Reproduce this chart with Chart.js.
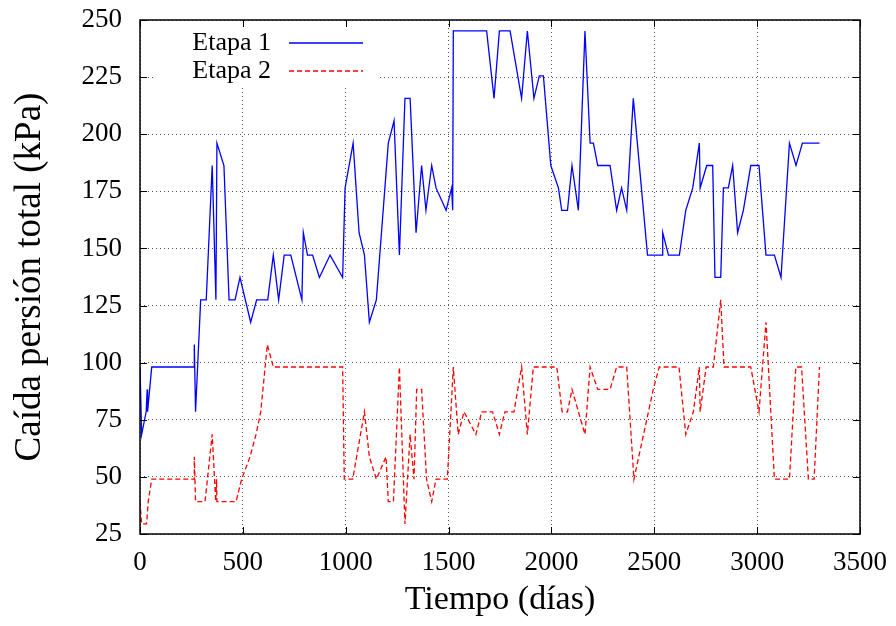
<!DOCTYPE html>
<html>
<head>
<meta charset="utf-8">
<script src="https://cdn.jsdelivr.net/npm/chart.js"></script>
<style>
  body { margin: 0; background: #fff; }
  canvas { display: block; }
</style>
</head>
<body>
<canvas id="grafico" width="896" height="626"></canvas>
<script>
// datos (dias, kPa)
const diasEtapa1 = [0, 8, 30, 35, 37, 57, 264, 264, 270, 295, 322, 351, 369, 374, 408, 433, 462, 486, 538, 567,
  621, 648, 674, 701, 733, 787, 794, 814, 839, 872, 924, 985, 997, 1036, 1065, 1091, 1115, 1149, 1207, 1235,
  1261, 1288, 1313, 1342, 1369, 1390, 1418, 1439, 1488, 1515, 1520, 1523, 1685, 1721, 1747, 1799, 1855, 1883, 1915, 1941,
  1961, 1997, 2034, 2050, 2078, 2100, 2131, 2163, 2188, 2204, 2225, 2285, 2317, 2341, 2366, 2398, 2467, 2541, 2541, 2569,
  2622, 2653, 2687, 2719, 2723, 2755, 2784, 2795, 2823, 2836, 2860, 2881, 2905, 2933, 2969, 3009, 3043, 3084, 3116, 3157,
  3189, 3220, 3303];
const kpaEtapa1 = [98.1, 68.6, 78.5, 88.3, 78.5, 98.1, 98.1, 107.9, 78.5, 127.5, 127.5, 186.3, 127.5, 196.1, 186.3, 127.5, 127.5, 137.3, 117.7, 127.5,
  127.5, 147.1, 127.5, 147.1, 147.1, 127.5, 156.9, 147.1, 147.1, 137.3, 147.1, 137.3, 176.5, 196.1, 156.9, 147.1, 117.7, 127.5, 196.1, 205.9,
  147.1, 215.7, 215.7, 156.9, 186.3, 166.7, 186.3, 176.5, 166.7, 176.5, 166.7, 245.2, 245.2, 215.7, 245.2, 245.2, 215.7, 245.2, 215.7, 225.5,
  225.5, 186.3, 176.5, 166.7, 166.7, 186.3, 166.7, 245.2, 196.1, 196.1, 186.3, 186.3, 166.7, 176.5, 166.7, 215.7, 147.1, 147.1, 156.9, 147.1,
  147.1, 166.7, 176.5, 196.1, 176.5, 186.3, 186.3, 137.3, 137.3, 176.5, 176.5, 186.3, 156.9, 166.7, 186.3, 186.3, 147.1, 147.1, 137.3, 196.1,
  186.3, 196.1, 196.1];

const diasEtapa2 = [0, 8, 32, 40, 57, 264, 264, 270, 316, 351, 368, 372, 374, 467, 494, 535, 564, 587, 619, 648,
  985, 993, 1034, 1091, 1115, 1149, 1196, 1207, 1232, 1261, 1288, 1313, 1332, 1345, 1369, 1393, 1418, 1439, 1494, 1523,
  1547, 1575, 1633, 1661, 1714, 1747, 1774, 1818, 1855, 1883, 1912, 2026, 2052, 2078, 2100, 2163, 2188, 2225, 2285, 2317,
  2366, 2401, 2495, 2524, 2620, 2653, 2690, 2719, 2723, 2752, 2787, 2823, 2839, 2969, 3009, 3043, 3084, 3157, 3188, 3216,
  3249, 3277, 3303];
const kpaEtapa2 = [39.2, 29.4, 29.4, 39.2, 49.0, 49.0, 58.8, 39.2, 39.2, 68.6, 39.2, 49.0, 39.2, 39.2, 49.0, 58.8, 68.6, 78.5, 107.9, 98.1,
  98.1, 49.0, 49.0, 78.5, 58.8, 49.0, 58.8, 39.2, 39.2, 98.1, 29.4, 68.6, 49.0, 88.3, 88.3, 49.0, 39.2, 49.0, 49.0, 98.1,
  68.6, 78.5, 68.6, 78.5, 78.5, 68.6, 78.5, 78.5, 98.1, 68.6, 98.1, 98.1, 78.5, 78.5, 88.3, 68.6, 98.1, 88.3, 88.3, 98.1,
  98.1, 49.0, 88.3, 98.1, 98.1, 68.6, 78.5, 98.1, 78.5, 98.1, 98.1, 127.5, 98.1, 98.1, 78.5, 117.7, 49.0, 49.0, 98.1, 98.1,
  49.0, 49.0, 98.1];

const ticksX = [0, 500, 1000, 1500, 2000, 2500, 3000, 3500];
const ticksY = [25, 50, 75, 100, 125, 150, 175, 200, 225, 250];

const fuente = '"Liberation Serif", "Times New Roman", serif';

function puntos(xs, ys) {
  return xs.map((x, i) => ({ x: x, y: ys[i] }));
}

// marco, marcas hacia dentro y leyenda estilo gnuplot
const marcoYLeyenda = {
  id: 'marcoYLeyenda',
  beforeDatasetsDraw(chart) {
    const { ctx, chartArea: a } = chart;
    ctx.save();
    ctx.fillStyle = '#fff';
    ctx.fillRect(a.left + 15, a.top + 1, 225, 65);
    ctx.restore();
  },
  afterDraw(chart) {
    const { ctx, chartArea: a, scales } = chart;
    const linea = (x1, y1, x2, y2) => {
      ctx.beginPath(); ctx.moveTo(x1, y1); ctx.lineTo(x2, y2); ctx.stroke();
    };
    ctx.save();
    ctx.strokeStyle = '#000';
    ctx.lineWidth = 1;
    ticksX.forEach(v => {
      const px = Math.round(scales.x.getPixelForValue(v)) + 0.5;
      linea(px, a.bottom, px, a.bottom - 7);
      linea(px, a.top, px, a.top + 7);
    });
    ticksY.forEach(v => {
      const py = Math.round(scales.y.getPixelForValue(v)) + 0.5;
      linea(a.left, py, a.left + 7, py);
      linea(a.right, py, a.right - 7, py);
    });
    ctx.lineWidth = 1.5;
    ctx.strokeRect(a.left, a.top, a.right - a.left, a.bottom - a.top);

    ctx.font = '26px ' + fuente;
    ctx.textAlign = 'right';
    ctx.textBaseline = 'middle';
    chart.data.datasets.forEach((ds, i) => {
      const y = a.top + 23 + i * 28;
      ctx.fillStyle = '#000';
      ctx.fillText(ds.label, a.left + 131, y);
      ctx.strokeStyle = ds.borderColor;
      ctx.lineWidth = ds.borderWidth;
      ctx.setLineDash(ds.borderDash || []);
      linea(a.left + 149, y, a.left + 223, y);
    });
    ctx.restore();
  }
};

const data = {
  datasets: [{
    label: 'Etapa 1',
    data: puntos(diasEtapa1, kpaEtapa1),
    borderColor: '#0000ff',
    borderWidth: 1.3,
    showLine: true,
    pointRadius: 0,
    tension: 0
  }, {
    label: 'Etapa 2',
    data: puntos(diasEtapa2, kpaEtapa2),
    borderColor: '#ff0000',
    borderWidth: 1.3,
    borderDash: [5, 3],
    showLine: true,
    pointRadius: 0,
    tension: 0
  }]
};

const config = {
  type: 'scatter',
  data: data,
  options: {
    responsive: false,
    animation: false,
    layout: { padding: { left: 0, right: 36, top: 20, bottom: 0 } },
    plugins: { legend: { display: false }, tooltip: { enabled: false } },
    scales: {
      x: {
        type: 'linear',
        min: 0, max: 3500,
        afterFit: s => { s.height = 92; s.paddingLeft = 0; s.paddingRight = 0; },
        afterBuildTicks: s => { s.ticks = ticksX.map(v => ({ value: v })); },
        ticks: { color: '#000', font: { family: fuente, size: 27 }, padding: 13, maxRotation: 0,
                 callback: v => String(v) },
        grid: { color: '#555', lineWidth: 1, drawTicks: false },
        border: { display: false, dash: [1, 3] },
        title: { display: true, text: 'Tiempo (días)', color: '#000', font: { family: fuente, size: 34 }, padding: { top: 0, bottom: 6 } }
      },
      y: {
        min: 25, max: 250,
        afterFit: s => { s.width = 140; s.paddingTop = 0; s.paddingBottom = 0; },
        afterBuildTicks: s => { s.ticks = ticksY.map(v => ({ value: v })); },
        ticks: { color: '#000', font: { family: fuente, size: 27 }, padding: 18,
                 callback: v => String(v) },
        grid: { color: '#555', lineWidth: 1, drawTicks: false },
        border: { display: false, dash: [1, 3] },
        title: { display: true, text: 'Caída persión total (kPa)', color: '#000', font: { family: fuente, size: 37 }, padding: { top: 8, bottom: 0 } }
      }
    }
  },
  plugins: [marcoYLeyenda]
};

let c = document.getElementById('grafico').getContext('2d');
new Chart(c, config);
</script>
</body>
</html>
